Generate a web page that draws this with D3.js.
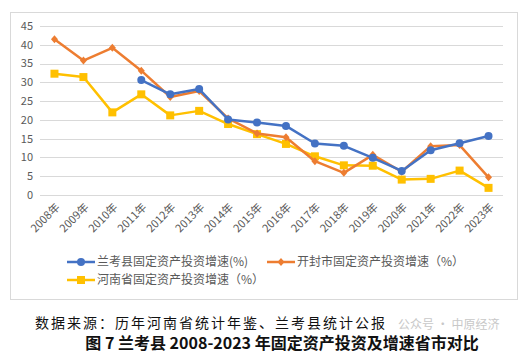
<!DOCTYPE html>
<html>
<head>
<meta charset="utf-8">
<script src="https://cdn.jsdelivr.net/npm/d3@7"></script>
<style>
body { margin: 0; background: #fff; }
text { font-family: "Noto Sans CJK SC", "Noto Sans", sans-serif; }
</style>
</head>
<body>
<div id="chart"></div>
<script>
var w = 527, h = 353

// data
var years = ["2008年","2009年","2010年","2011年","2012年","2013年","2014年","2015年",
	"2016年","2017年","2018年","2019年","2020年","2021年","2022年","2023年"]
var lankao = [null, null, null, 30.6, 26.8, 28.2, 20.1, 19.3, 18.4, 13.7, 13.1, 9.9, 6.4, 11.9, 13.8, 15.7]
var kaifeng = [41.5, 35.8, 39.2, 33.1, 26.1, 27.7, 20.4, 16.4, 15.4, 9.0, 5.9, 10.7, 6.2, 13.0, 13.3, 4.7]
var henan = [32.3, 31.4, 22.0, 26.8, 21.2, 22.4, 18.9, 16.2, 13.6, 10.3, 7.9, 7.8, 4.1, 4.3, 6.5, 1.9]
var yTicks = [0, 5, 10, 15, 20, 25, 30, 35, 40, 45]
var seriesNames = ["兰考县固定资产投资增速(%)", "开封市固定资产投资增速（%）", "河南省固定资产投资增速（%）"]

var series = [
	{name: seriesNames[0], values: lankao, colour: "#4472C4", marker: "circle"},
	{name: seriesNames[1], values: kaifeng, colour: "#ED7D31", marker: "diamond"},
	{name: seriesNames[2], values: henan, colour: "#FFC000", marker: "square"}
]

var svg = d3.select("#chart")
	.append("svg")
	.attr("width", w)
	.attr("height", h)

// chart frame
svg.append("rect")
	.attr("x", 10.5).attr("y", 12.5)
	.attr("width", 507).attr("height", 287)
	.attr("fill", "#fff")
	.attr("stroke", "#d9d9d9")

var x = d3.scaleBand().domain(years).range([40, 503])
var y = d3.scaleLinear().domain([0, 45]).range([195, 26])

// grid + y labels
var grid = svg.append("g")
grid.selectAll("line")
	.data(yTicks)
	.enter()
	.append("line")
	.attr("x1", 40).attr("x2", 503)
	.attr("y1", function(d) {return Math.round(y(d)) + 0.5})
	.attr("y2", function(d) {return Math.round(y(d)) + 0.5})
	.attr("stroke", "#d9d9d9")

grid.selectAll("text")
	.data(yTicks)
	.enter()
	.append("text")
	.attr("x", 33)
	.attr("y", function(d) {return y(d)})
	.attr("dy", "0.35em")
	.attr("text-anchor", "end")
	.attr("fill", "#595959")
	.style("font-size", "11px")
	.text(function(d) {return d})

// x labels
svg.append("g")
	.selectAll("text")
	.data(years)
	.enter()
	.append("text")
	.attr("transform", function(d) {
		return "translate(" + (x(d) + x.bandwidth() / 2 + 6) + ",208) rotate(-45)"
	})
	.attr("text-anchor", "end")
	.attr("fill", "#595959")
	.style("font-size", "11px")
	.text(function(d) {return d})

// lines
var line = d3.line()
	.defined(function(d) {return d != null})
	.x(function(d, i) {return x(years[i]) + x.bandwidth() / 2})
	.y(function(d) {return y(d)})

function drawMarker(g, type, colour, cx, cy) {
	if (type == "circle") {
		g.append("circle").attr("cx", cx).attr("cy", cy).attr("r", 4).attr("fill", colour)
	} else if (type == "square") {
		g.append("rect").attr("x", cx - 4).attr("y", cy - 4).attr("width", 8).attr("height", 8).attr("fill", colour)
	} else {
		g.append("path")
			.attr("d", "M" + cx + "," + (cy - 4) + "L" + (cx + 3.5) + "," + cy + "L" + cx + "," + (cy + 4) + "L" + (cx - 3.5) + "," + cy + "Z")
			.attr("fill", colour)
	}
}

series.slice().reverse().forEach(function(s) {
	var g = svg.append("g")
	g.append("path")
		.attr("d", line(s.values))
		.attr("fill", "none")
		.attr("stroke", s.colour)
		.attr("stroke-width", 2.5)
		.attr("stroke-linejoin", "round")
	s.values.forEach(function(v, i) {
		if (v == null) return
		drawMarker(g, s.marker, s.colour, x(years[i]) + x.bandwidth() / 2, y(v))
	})
})

// legend
var legendPos = [[67, 262], [267, 262], [67, 280]]
series.forEach(function(s, i) {
	var g = svg.append("g").attr("transform", "translate(" + legendPos[i][0] + "," + legendPos[i][1] + ")")
	g.append("line").attr("x1", 0).attr("x2", 28).attr("stroke", s.colour).attr("stroke-width", 2.5)
	drawMarker(g, s.marker, s.colour, 14, 0)
	g.append("text")
		.attr("x", 30)
		.attr("dy", "0.35em")
		.attr("fill", "#595959")
		.style("font-size", "12px")
		.text(s.name)
})

// source + title
svg.append("text")
	.attr("x", 35).attr("y", 328)
	.attr("fill", "#111")
	.style("font-size", "14px")
	.style("letter-spacing", "2px")
	.text("数据来源：历年河南省统计年鉴、兰考县统计公报")

svg.append("text")
	.attr("x", 398).attr("y", 329)
	.attr("fill", "#c8c8c8")
	.style("font-size", "12px")
	.text("公众号 · 中原经济")

svg.append("text")
	.attr("x", 282).attr("y", 349)
	.attr("text-anchor", "middle")
	.attr("fill", "#111")
	.style("font-size", "16px")
	.style("font-weight", "bold")
	.text("图 7 兰考县 2008-2023 年固定资产投资及增速省市对比")
</script>
</body>
</html>
